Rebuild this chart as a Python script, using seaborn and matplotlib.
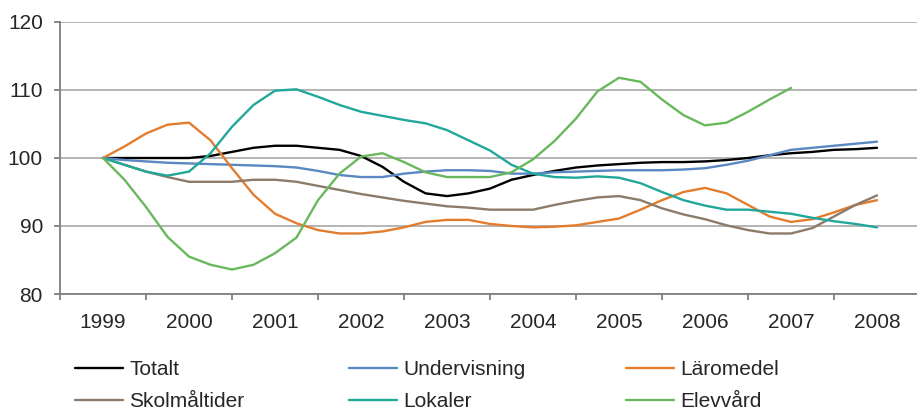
"""Index chart 1999-2008, quarterly readings, drawn with seaborn."""
import matplotlib
matplotlib.use("Agg")
import matplotlib.pyplot as plt
import seaborn as sns
import pandas as pd
import numpy as np


years = ["1999", "2000", "2001", "2002", "2003",
         "2004", "2005", "2006", "2007", "2008"]

# values, one per quarter starting at 1999
totalt = [100, 100, 100, 100,
          100.0, 100.3, 100.9, 101.5,
          101.8, 101.8, 101.5, 101.2,
          100.3, 98.7, 96.5, 94.8,
          94.4, 94.8, 95.5, 96.8,
          97.5, 98.1, 98.6, 98.9,
          99.1, 99.3, 99.4, 99.4,
          99.5, 99.7, 100.0, 100.4,
          100.7, 100.9, 101.2, 101.3,
          101.5]
undervisning = [100, 99.7, 99.5, 99.3,
                99.2, 99.1, 99.0, 98.9,
                98.8, 98.6, 98.1, 97.5,
                97.2, 97.2, 97.7, 98.0,
                98.2, 98.2, 98.1, 97.7,
                97.7, 97.9, 98.0, 98.1,
                98.2, 98.2, 98.2, 98.3,
                98.5, 99.0, 99.6, 100.4,
                101.2, 101.5, 101.8, 102.1,
                102.4]
laromedel = [100, 101.7, 103.6, 104.9,
             105.2, 102.6, 98.5, 94.6,
             91.8, 90.4, 89.4, 88.9,
             88.9, 89.2, 89.8, 90.6,
             90.9, 90.9, 90.3, 90.0,
             89.8, 89.9, 90.1, 90.6,
             91.1, 92.4, 93.8, 95.0,
             95.6, 94.8, 93.1, 91.4,
             90.6, 91.0, 92.0, 93.1,
             93.8]
skolmaltider = [100, 99.0, 98.0, 97.2,
                96.5, 96.5, 96.5, 96.8,
                96.8, 96.5, 95.9, 95.3,
                94.7, 94.2, 93.7, 93.3,
                92.9, 92.7, 92.4, 92.4,
                92.4, 93.1, 93.7, 94.2,
                94.4, 93.8, 92.6, 91.7,
                91.0, 90.1, 89.4, 88.9,
                88.9, 89.7, 91.4, 93.1,
                94.5]
lokaler = [100, 99.0, 98.0, 97.4,
           98.0, 100.7, 104.6, 107.8,
           109.9, 110.1, 109.0, 107.8,
           106.8, 106.2, 105.6, 105.1,
           104.1, 102.6, 101.1, 99.0,
           97.7, 97.2, 97.1, 97.3,
           97.1, 96.3, 95.0, 93.8,
           93.0, 92.4, 92.4, 92.1,
           91.8, 91.2, 90.7, 90.3,
           89.8]
elevvard = [100, 96.8, 92.8, 88.4,
            85.5, 84.3, 83.6, 84.3,
            86.0, 88.3, 93.8, 97.7,
            100.2, 100.7, 99.4, 97.9,
            97.2, 97.2, 97.2, 97.9,
            99.8, 102.5, 105.8, 109.8,
            111.8, 111.2, 108.6, 106.3,
            104.8, 105.2, 106.8, 108.6,
            110.3]

names = ["Totalt", "Undervisning", "Läromedel",
         "Skolmåltider", "Lokaler", "Elevvård"]
values = [totalt, undervisning, laromedel, skolmaltider, lokaler, elevvard]
colors = ["#000000", "#5b87c2", "#e27d2f", "#8c7b6a", "#22a89a", "#6ab85d"]

frames = []
for name, vals in zip(names, values):
    frames.append(pd.DataFrame({"pos": np.arange(len(vals)) / 4,
                                "serie": name,
                                "index": vals}))
df = pd.concat(frames, ignore_index=True)

sns.set_style("white")
plt.rcParams['font.family'] = ['Liberation Sans', 'DejaVu Sans']

W, H = 917, 412
fig = plt.figure(figsize=(W / 100, H / 100), dpi=100)
ax = fig.add_axes([60 / W, 1 - 294 / H, 860 / W, 272 / H])

sns.lineplot(data=df, x="pos", y="index", hue="serie", hue_order=names,
             palette=colors, linewidth=1.7, errorbar=None, legend=False,
             ax=ax)

ax.set_xlim(-0.5, 9.5)
ax.set_ylim(80, 120)
ax.set_xlabel("")
ax.set_ylabel("")

grid_col = "#b4b4b4"
axis_col = "#7f7f7f"
ax.set_yticks([80, 90, 100, 110, 120])
ax.yaxis.grid(True, color=grid_col, linewidth=1.4)
ax.set_axisbelow(True)
for s in ["top", "right"]:
    ax.spines[s].set_visible(False)
for s in ["left", "bottom"]:
    ax.spines[s].set_color(axis_col)
    ax.spines[s].set_linewidth(1.3)

ax.set_xticks(np.arange(-0.5, 10, 1))
ax.set_xticklabels([])
ax.set_xticks(np.arange(len(years)), minor=True)
ax.set_xticklabels(years, minor=True)
ax.tick_params(axis="x", which="major", direction="out", length=4.3,
               width=1.3, color=axis_col, bottom=True)
ax.tick_params(axis="x", which="minor", length=0, pad=14, labelsize=15)
ax.tick_params(axis="y", direction="out", length=4.3, width=1.3,
               color=axis_col, pad=8, labelsize=15, left=True)

lines = ax.get_lines()
col_x = [75, 349, 626]
for c in range(3):
    hs = [lines[c], lines[c + 3]]
    ls = [names[c], names[c + 3]]
    fig.legend(hs, ls, loc="center left",
               bbox_to_anchor=(col_x[c] / W, 1 - 385.5 / H),
               frameon=False, fontsize=15, borderpad=0, borderaxespad=0,
               handlelength=2.3, handletextpad=0.3, labelspacing=0.62)

fig.savefig("out.png", dpi=100)
